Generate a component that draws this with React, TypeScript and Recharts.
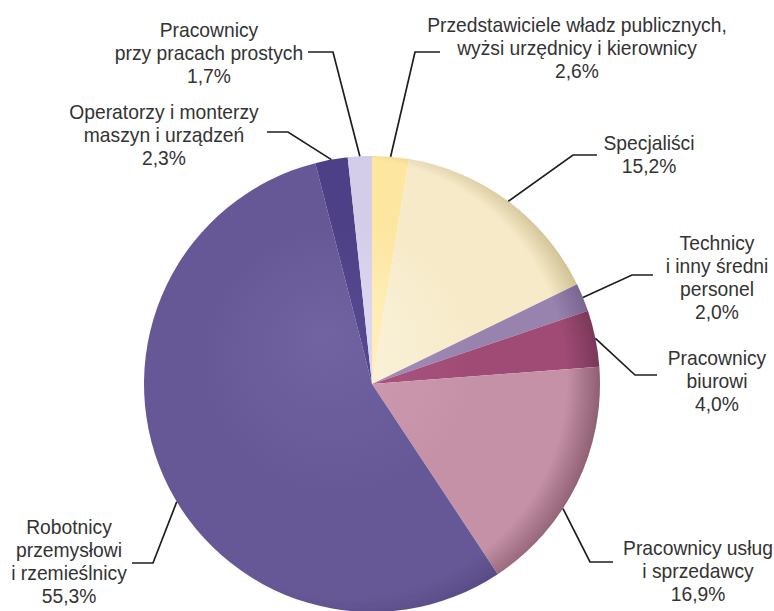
import React from 'react';
import { PieChart, Pie, Cell } from 'recharts';

const categories = [
  'Przedstawiciele władz publicznych,\nwyżsi urzędnicy i kierownicy',
  'Specjaliści',
  'Technicy\ni inny średni\npersonel',
  'Pracownicy\nbiurowi',
  'Pracownicy usług\ni sprzedawcy',
  'Robotnicy\nprzemysłowi\ni rzemieślnicy',
  'Operatorzy i monterzy\nmaszyn i urządzeń',
  'Pracownicy\nprzy pracach prostych',
];
const shares = [2.6, 15.2, 2.0, 4.0, 16.9, 55.3, 2.3, 1.7];
const shareLabels = ['2,6%', '15,2%', '2,0%', '4,0%', '16,9%', '55,3%', '2,3%', '1,7%'];

const baseColors = ['#FDE6A0', '#F6EAC8', '#9882AE', '#9F4B75', '#C591A7', '#665896', '#4D4086', '#D3CDEA'];
const lightColors = ['#FFF2C6', '#FCF4DE', '#A892BC', '#AD5A83', '#CE9DB2', '#7162A2', '#584A92', '#E0DBF2'];
const rimColors = ['#D8BF7C', '#CDBD90', '#786490', '#7A3858', '#8E5F72', '#54477F', '#3D3270', '#ABA3CA'];

// label layout: offsets relative to pie centre (px); edgeAngle in polar degrees (null = slice middle)
const labelLayout = [
  { edgeAngle: null, elbow: [43, -332], end: [68, -332], text: [205, -352] },
  { edgeAngle: null, elbow: [201, -229], end: [225, -229], text: [277, -234] },
  { edgeAngle: null, elbow: [260, -109], end: [281, -109], text: [345, -134] },
  { edgeAngle: null, elbow: [263, -9], end: [285, -9], text: [345, -19] },
  { edgeAngle: -33.1, elbow: [218, 178], end: [241, 178], text: [326, 171] },
  { edgeAngle: 211.1, elbow: [-219, 179], end: [-240, 179], text: [-303, 150] },
  { edgeAngle: null, elbow: [-84, -252], end: [-105, -252], text: [-208, -265] },
  { edgeAngle: null, elbow: [-39, -332], end: [-64, -332], text: [-163, -347] },
];

const data = categories.map((name, i) => ({ name, value: shares[i], pct: shareLabels[i] }));

const CX = 372;
const CY = 384;
const R = 228;
const FONT = "'Liberation Sans', Arial, sans-serif";
const SQUEEZE = 0.94;
const LH = 23;

const renderLabel = (props: any) => {
  const { cx, cy, midAngle, outerRadius, index } = props;
  const lay = labelLayout[index];
  const ang = ((lay.edgeAngle ?? midAngle) * Math.PI) / 180;
  const ex = cx + outerRadius * Math.cos(ang);
  const ey = cy - outerRadius * Math.sin(ang);
  const bx = cx + lay.elbow[0];
  const by = cy + lay.elbow[1];
  const hx = cx + lay.end[0];
  const hy = cy + lay.end[1];
  const lines = [...categories[index].split('\n'), shareLabels[index]];
  const tx = cx + lay.text[0];
  const ty = cy + lay.text[1];
  return (
    <g key={`lbl-${index}`}>
      <polyline
        points={`${ex},${ey} ${bx},${by} ${hx},${hy}`}
        fill="none"
        stroke="#1e1e1e"
        strokeWidth={1.7}
      />
      <g transform={`translate(${tx},0) scale(${SQUEEZE},1)`}>
        <text x={0} y={ty} textAnchor="middle" fill="#333" fontSize={20.5} fontFamily={FONT}>
          {lines.map((l, k) => (
            <tspan key={k} x={0} y={ty + k * LH}>
              {l}
            </tspan>
          ))}
        </text>
      </g>
    </g>
  );
};

export default function App() {
  return (
    <div style={{ position: 'absolute', left: 0, top: 0, width: 774, height: 611, background: '#fff' }}>
      <PieChart width={774} height={611} margin={{ top: 0, right: 0, bottom: 0, left: 0 }}>
        <defs>
          {baseColors.map((c, i) => (
            <radialGradient
              key={i}
              id={`grad${i}`}
              gradientUnits="userSpaceOnUse"
              cx={CX - 22}
              cy={CY}
              r={R + 22}
              fx={CX - 50}
              fy={CY - 50}
            >
              <stop offset="0%" stopColor={lightColors[i]} />
              <stop offset="55%" stopColor={c} />
              <stop offset="88%" stopColor={c} />
              <stop offset="100%" stopColor={rimColors[i]} />
            </radialGradient>
          ))}
        </defs>
        <Pie
          data={data}
          dataKey="value"
          nameKey="name"
          cx={CX}
          cy={CY}
          outerRadius={R}
          innerRadius={0}
          startAngle={90}
          endAngle={-270}
          stroke="none"
          isAnimationActive={false}
          labelLine={false}
          label={renderLabel}
        >
          {data.map((d, i) => (
            <Cell key={d.name} fill={`url(#grad${i})`} />
          ))}
        </Pie>
      </PieChart>
    </div>
  );
}
